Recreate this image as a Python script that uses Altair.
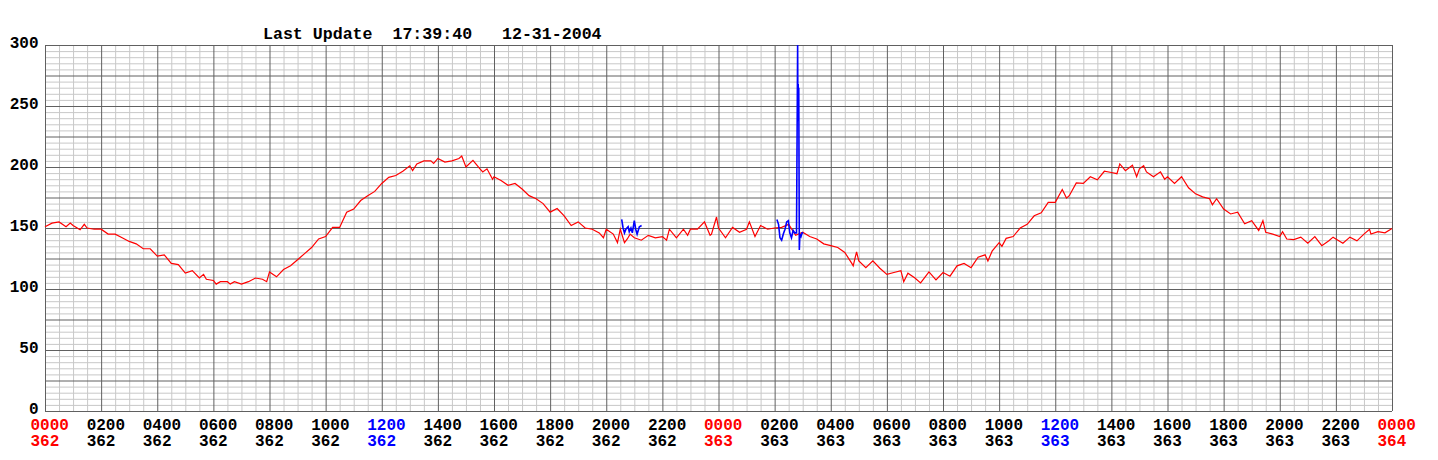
import altair as alt
import pandas as pd

# ---- data ----
red_h = [0.0, 0.25, 0.5, 0.75, 0.9, 1.0, 1.25, 1.4, 1.5, 1.75, 2.0, 2.25, 2.5, 2.75, 3.0, 3.25, 3.5, 3.75,
         4.0, 4.25, 4.5, 4.75, 5.0, 5.25, 5.5, 5.65, 5.75, 6.0, 6.1, 6.25, 6.5, 6.6, 6.75, 7.0, 7.25, 7.5,
         7.75, 7.9, 8.0, 8.25, 8.5, 8.75, 9.0, 9.25, 9.5, 9.75, 10.0, 10.25, 10.5, 10.75, 11.0, 11.25, 11.5,
         11.75, 12.0, 12.25, 12.5, 12.75, 13.0, 13.1, 13.25, 13.5, 13.75, 13.85, 14.0, 14.25, 14.5, 14.75,
         14.85, 15.0, 15.25, 15.5, 15.6, 15.75, 15.95, 16.0, 16.25, 16.5, 16.75, 17.0, 17.25, 17.5, 17.75,
         18.0, 18.25, 18.5, 18.75, 19.0, 19.25, 19.5, 19.75, 19.9, 20.0, 20.25, 20.4, 20.5, 20.65, 20.75,
         20.85, 21.0, 21.25, 21.5, 21.75, 22.0, 22.15, 22.25, 22.5, 22.75, 22.9, 23.0, 23.25, 23.5, 23.7,
         23.75, 23.93, 24.0, 24.25, 24.5, 24.75, 25.0, 25.1, 25.3, 25.5, 25.75, 26.0, 26.25, 26.5, 26.75,
         27.0, 27.25, 27.5, 27.75, 28.0, 28.25, 28.5, 28.75, 28.8, 28.92, 29.0, 29.25, 29.5, 29.75, 30.0,
         30.25, 30.5, 30.6, 30.75, 31.0, 31.2, 31.25, 31.5, 31.75, 32.0, 32.25, 32.5, 32.75, 33.0, 33.25,
         33.5, 33.6, 33.75, 34.0, 34.1, 34.25, 34.5, 34.75, 35.0, 35.25, 35.5, 35.75, 36.0, 36.25, 36.4,
         36.5, 36.75, 37.0, 37.25, 37.5, 37.75, 38.0, 38.2, 38.3, 38.5, 38.75, 38.9, 39.0, 39.15, 39.25,
         39.5, 39.75, 39.9, 40.0, 40.25, 40.5, 40.75, 41.0, 41.25, 41.5, 41.6, 41.75, 42.0, 42.25, 42.5,
         42.75, 43.0, 43.25, 43.4, 43.5, 43.75, 44.0, 44.1, 44.25, 44.5, 44.75, 45.0, 45.25, 45.5, 45.75,
         45.9, 46.0, 46.25, 46.5, 46.75, 47.0, 47.2, 47.25, 47.5, 47.75, 48.0]
red_v = [151, 154, 155, 151, 154, 152, 148.5, 153, 150, 149, 149, 145, 145, 142, 139, 137, 133, 133,
         127, 128, 121, 120, 113, 115, 109, 112, 108, 107, 104, 106, 106, 104, 106, 104, 106, 109,
         108, 106, 114, 110, 116, 119, 124, 129, 134, 141, 143, 150.5, 150.5, 163, 165.5, 172.5, 176.5,
         180, 186.5, 191.5, 193, 196.5, 201, 197, 202.5, 205, 205, 203, 207, 204, 205, 207,
         209, 200, 205.5, 198.5, 196, 198.5, 190, 192, 189, 185, 186.5, 182, 176.5, 174, 170,
         163, 166, 160, 152, 155, 150, 149, 146, 142, 149, 145, 138, 149, 138, 141,
         145, 142, 140, 144, 142, 143, 140, 149, 142, 149, 144, 149, 149, 155, 144,
         145, 159, 150, 142, 150.5, 146.5, 149, 155, 143, 152, 149, 150, 150.5, 153, 144,
         146.5, 143, 141, 137, 135.5, 134, 130, 121, 119, 130.5, 123, 117.5, 123, 117, 112,
         113.5, 115, 106, 113, 109, 105, 106.5, 114, 107.5, 113.5, 110.5, 119, 121, 117.5, 126,
         128, 123, 131, 138, 135, 141.5, 143, 150, 153, 160, 162.5, 171, 171, 181.5, 174.5,
         176.5, 187, 186.5, 192, 189.5, 196.5, 195.5, 194.5, 202.5, 197, 201.5, 192, 198.5, 201, 196,
         192, 196, 190, 192, 186.5, 192, 183, 178, 175.5, 174, 169, 174, 165.5, 161.5, 163,
         153.5, 156, 148, 156, 146.5, 145, 143, 147, 141, 140.5, 142.5, 137.5, 143, 135.5, 139.5,
         142.5, 141, 137.5, 142.5, 139.5, 145, 149, 145, 147, 146, 149.5]

blue1_h = [20.55, 20.6, 20.65, 20.7, 20.78, 20.82, 20.88, 20.93, 21.0, 21.05, 21.1, 21.18, 21.26]
blue1_v = [157, 150, 146, 149, 151, 147, 150, 146, 156, 149, 145, 151, 152]

blue2_h = [26.08, 26.14, 26.19, 26.25, 26.31, 26.37, 26.43, 26.49, 26.54, 26.6, 26.66, 26.72, 26.78,
           26.82, 26.83, 26.84, 26.85, 26.86, 26.88, 26.9, 26.94, 26.98, 27.02]
blue2_v = [157, 153, 142, 140, 145, 149, 155, 156, 146, 142, 148, 146, 146,
           300, 240, 268, 238, 265, 132, 145, 143, 146, 146]

title_text = "Last Update  17:39:40   12-31-2004"
x_label_hours = list(range(0, 49, 2))
y_label_values = list(range(0, 301, 25))

# grid structure
minor_x = [i * 0.5 for i in range(97) if i % 4 != 0]
major_x = x_label_hours
minor_y = [i * 5 for i in range(61) if i % 5 != 0]
major_y = y_label_values

FONT = "Liberation Mono"
XS = alt.Scale(domain=[0, 48], nice=False, zero=False)
YS = alt.Scale(domain=[0, 300], nice=False, zero=False)

red_df = pd.DataFrame({"h": red_h, "v": red_v})
blue_df = pd.concat([
    pd.DataFrame({"h": blue1_h, "v": blue1_v, "seg": "a"}),
    pd.DataFrame({"h": blue2_h, "v": blue2_v, "seg": "b"}),
])

x_axis = alt.Axis(
    values=x_label_hours, grid=False, domain=False, ticks=False, title=None,
    labelExpr="[pad(toString((datum.value % 24) * 100), 4, '0', 'left'), toString(362 + floor(datum.value / 24))]",
    labelAlign="left", labelOffset=-15, labelBaseline="top", labelPadding=5,
    labelLineHeight=16, labelFlush=False, labelOverlap=False, labelBound=False,
    labelFont=FONT, labelFontSize=16, labelFontWeight="bold",
    labelColor=alt.ExprRef(expr="datum.value % 24 === 0 ? '#ff0000' : (datum.value % 24 === 12 ? '#0000ff' : '#000000')"),
)
y_axis = alt.Axis(
    values=y_label_values, grid=False, domain=False, ticks=False, title=None,
    labelExpr="datum.value % 50 === 0 ? datum.label : ''",
    labelPadding=7, labelOffset=-2.5, labelFont=FONT, labelFontSize=16, labelFontWeight="bold",
    labelColor="#000000", labelOverlap=False,
)

vminor = alt.Chart(pd.DataFrame({"g": minor_x})).mark_rule(
    color="#c8c8c8", strokeWidth=1, xOffset=0.5
).encode(x=alt.X("g:Q", scale=XS, axis=x_axis))
hminor = alt.Chart(pd.DataFrame({"g": minor_y})).mark_rule(
    color="#c8c8c8", strokeWidth=1, yOffset=0.5
).encode(y=alt.Y("g:Q", scale=YS, axis=y_axis))
vmajor = alt.Chart(pd.DataFrame({"g": major_x})).mark_rule(
    color="#606060", strokeWidth=1, xOffset=0.5
).encode(x=alt.X("g:Q", scale=XS, axis=x_axis))
hmajor = alt.Chart(pd.DataFrame({"g": major_y})).mark_rule(
    color="#606060", strokeWidth=1, yOffset=0.5
).encode(y=alt.Y("g:Q", scale=YS, axis=y_axis))

red = alt.Chart(red_df).mark_line(color="#ff0000", strokeWidth=1.2).encode(
    x=alt.X("h:Q", scale=XS, axis=x_axis),
    y=alt.Y("v:Q", scale=YS, axis=y_axis),
)
blue = alt.Chart(blue_df).mark_line(color="#0000ff", strokeWidth=1.6).encode(
    x=alt.X("h:Q", scale=XS, axis=x_axis),
    y=alt.Y("v:Q", scale=YS, axis=y_axis),
    detail="seg:N",
)
title = alt.Chart(pd.DataFrame({"t": [title_text.replace(" ", "\u00a0")]})).mark_text(
    align="left", baseline="alphabetic", font=FONT, fontSize=16.6, fontWeight="bold", color="#000000"
).encode(x=alt.value(218), y=alt.value(-6), text="t:N")

chart = alt.layer(vminor, hminor, vmajor, hmajor, red, blue, title).properties(
    width=1347, height=366,
    autosize=alt.AutoSizeParams(type="none"),
    padding={"left": 37, "top": 37, "right": 30, "bottom": 40},
    background="white",
).configure_view(stroke=None)

chart.save("out.html", embed_options={"renderer": "svg", "actions": False})
